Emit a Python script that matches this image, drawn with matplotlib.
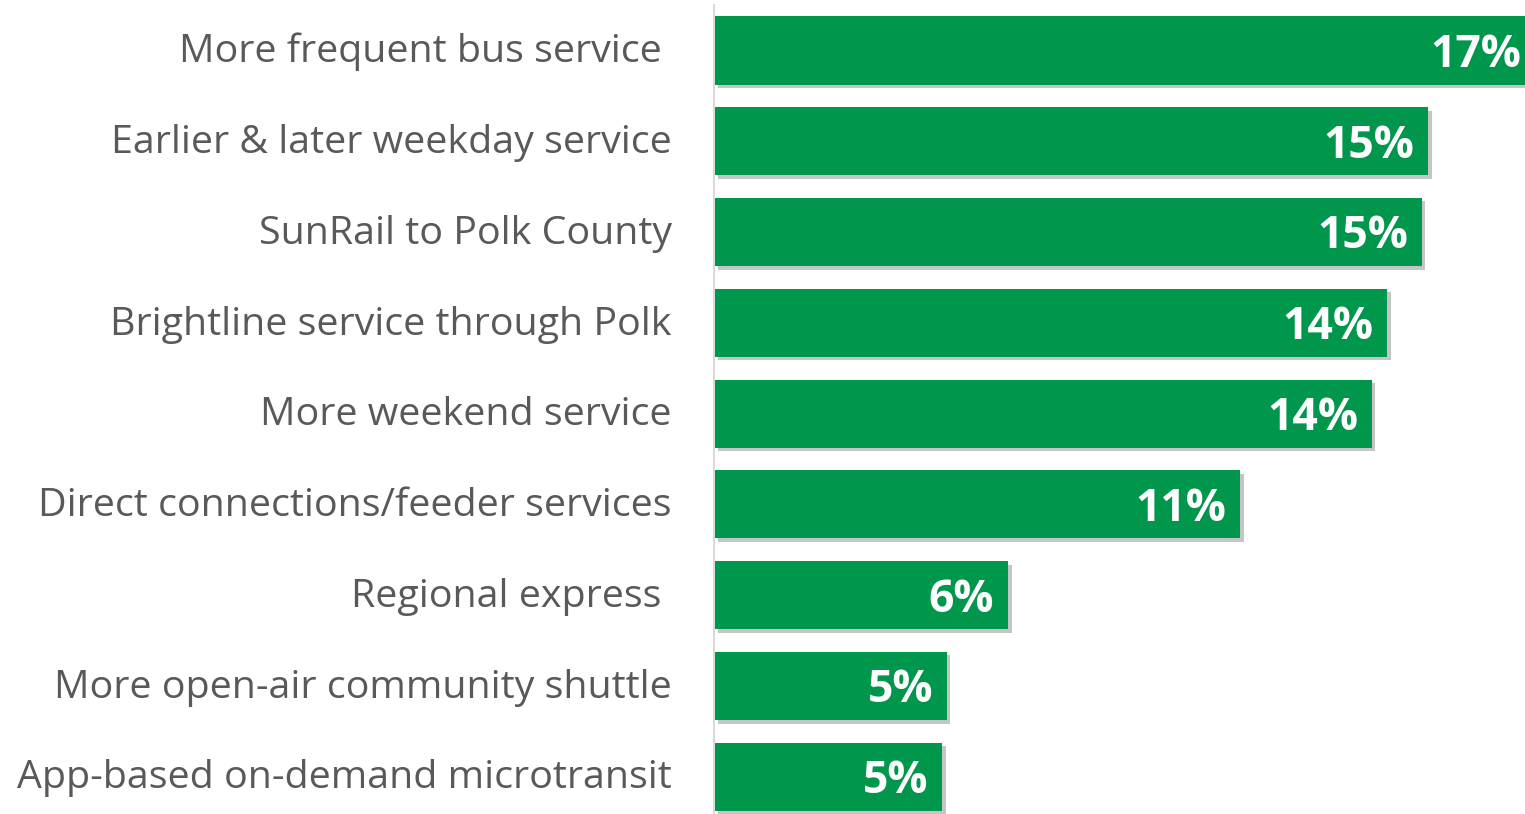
import matplotlib
matplotlib.use("Agg")
from matplotlib import pyplot as plt
from matplotlib import patheffects as pe

# Data
categories = [
    "More frequent bus service ",
    "Earlier & later weekday service",
    "SunRail to Polk County",
    "Brightline service through Polk",
    "More weekend service",
    "Direct connections/feeder services",
    "Regional express ",
    "More open-air community shuttle",
    "App-based on-demand microtransit",
]
values = [17.2, 14.94, 14.81, 14.08, 13.76, 11.0, 6.14, 4.86, 4.76]
value_labels = ["17%", "15%", "15%", "14%", "14%", "11%", "6%", "5%", "5%"]

GREEN = "#00964b"
LABEL_GRAY = "#595959"
XMAX = 16.97

plt.rcParams["font.family"] = ["Open Sans", "DejaVu Sans"]

fig = plt.figure(figsize=(15.25, 8.14), dpi=100)
ax = fig.add_axes([715 / 1525, 0, 810 / 1525, 1])

pos = list(range(len(categories)))
bars = ax.barh(pos, values, height=0.75, color=GREEN, zorder=3)
for b in bars:
    b.set_path_effects([
        pe.SimplePatchShadow(offset=(2.5, -2.5), shadow_rgbFace="#7f7f7f", alpha=0.45),
        pe.Normal(),
    ])

# Value labels inside bar ends
for y, v, lab in zip(pos, values, value_labels):
    ax.annotate(
        lab,
        xy=(min(v, XMAX), y),
        xytext=(-3 if v > XMAX else -10, -3.5),
        textcoords="offset points",
        ha="right",
        va="center",
        fontsize=32,
        fontweight="bold",
        color="white",
        zorder=4,
    )

# Category labels left of the axis
for y, cat in zip(pos, categories):
    ax.annotate(
        cat,
        xy=(0, y),
        xytext=(-31, -1.2),
        textcoords="offset points",
        ha="right",
        va="center",
        fontsize=28.4,
        color=LABEL_GRAY,
        annotation_clip=False,
    )

ax.set_xlim(0, XMAX)
ax.set_ylim(8.41, -0.556)
ax.set_xticks([])
ax.set_yticks([])

for s in ax.spines.values():
    s.set_visible(False)

ax.plot([-0.02, -0.02], [-0.5, 8.41], color="#d9d9d9", linewidth=1.5, zorder=1, clip_on=False)

fig.savefig("out.png", dpi=100)
